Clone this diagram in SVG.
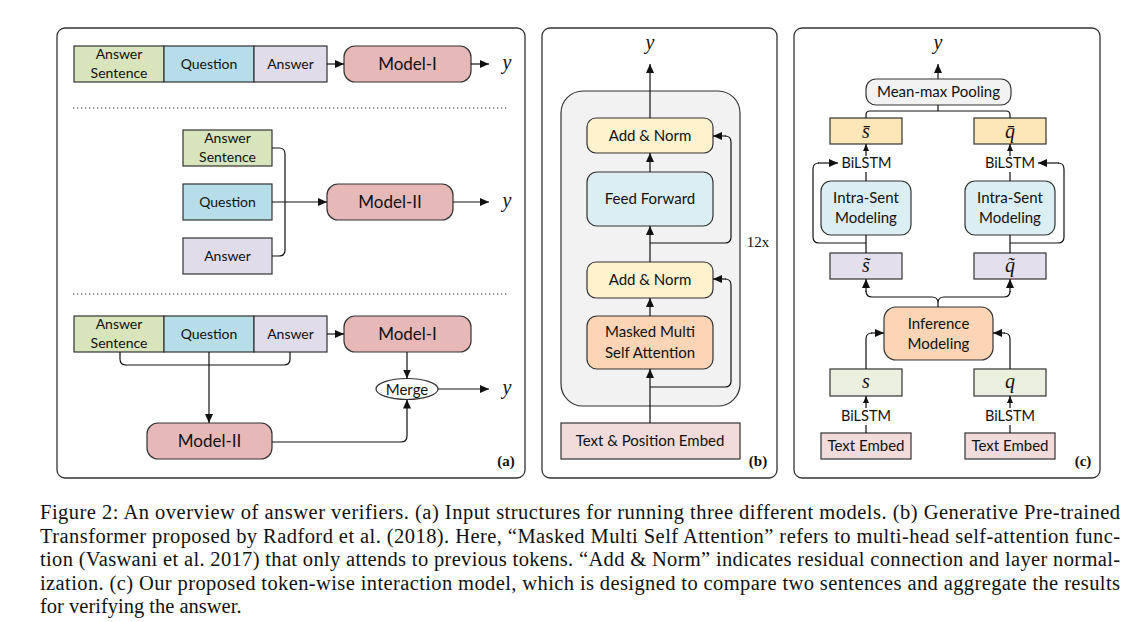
<svg xmlns="http://www.w3.org/2000/svg" width="1137" height="622" viewBox="0 0 1137 622">
<style>
.panel{fill:#fff;stroke:#333;stroke-width:1.3}
.box{stroke:#333;stroke-width:1.2}
.t{font-family:Lato,"Liberation Sans",sans-serif;font-size:14px;fill:#111;text-anchor:middle}
.t15{font-family:Lato,"Liberation Sans",sans-serif;font-size:15px;fill:#111;text-anchor:middle}
.tb{font-family:Lato,"Liberation Sans",sans-serif;font-size:14.5px;fill:#111;text-anchor:middle}
.tm{font-family:Lato,"Liberation Sans",sans-serif;font-size:17px;fill:#111;text-anchor:middle}
.math{font-family:"Liberation Serif",serif;font-style:italic;font-size:20px;fill:#111;text-anchor:middle}
.lbl{font-family:"Liberation Serif",serif;font-weight:bold;font-size:15px;fill:#111;text-anchor:middle}
.serif{font-family:"Liberation Serif",serif;font-size:15px;fill:#111;text-anchor:middle}
.cap{font-family:"Liberation Serif",serif;font-size:20.5px;fill:#111}
.ln{fill:none;stroke:#111;stroke-width:1.2}
.arr{fill:none;stroke:#111;stroke-width:1.2;marker-end:url(#ah)}
.arrs{fill:none;stroke:#111;stroke-width:1.2;marker-end:url(#ahs)}
.dot{stroke:#333;stroke-width:1.2;stroke-dasharray:1.3 2.7;fill:none}
.green{fill:#d8e4bc}.blue{fill:#b7dee8}.lav{fill:#e1dcea}.pink{fill:#e6b9b8}
.yel{fill:#fff2cc}.lblue{fill:#dbeef4}.peach{fill:#fbd5b5}.rose{fill:#f2dcdb}.gray{fill:#f2f2f2}
.orn{fill:#fde6b8}.lav2{fill:#e4dfec}.lgreen{fill:#ebf1de}
</style>
<defs>
<marker id="ah" markerUnits="userSpaceOnUse" markerWidth="9" markerHeight="8" refX="9" refY="4" orient="auto"><path d="M0,0 L9,4 L0,8 z" fill="#111"/></marker>
<marker id="ahs" markerUnits="userSpaceOnUse" markerWidth="7" markerHeight="6" refX="7" refY="3" orient="auto"><path d="M0,0 L7,3 L0,6 z" fill="#111"/></marker>
</defs>

<!-- Panel frames -->
<rect class="panel" x="57" y="28" width="468" height="450" rx="8"/>
<rect class="panel" x="542" y="28" width="235" height="450" rx="8"/>
<rect class="panel" x="794" y="28" width="306" height="450" rx="8"/>

<!-- ===== Panel (a) ===== -->
<g id="a-row1">
<rect class="box green" x="74" y="46" width="90" height="36"/>
<text class="t" x="119" y="59">Answer</text><text class="t" x="119" y="78">Sentence</text>
<rect class="box blue" x="164" y="46" width="90" height="36"/>
<text class="t" x="209" y="69">Question</text>
<rect class="box lav" x="254" y="46" width="73" height="36"/>
<text class="t" x="290.5" y="69">Answer</text>
</g>
<g id="a-model1-top"><rect class="box pink" x="344" y="46" width="127" height="36" rx="11"/><text class="tm" x="407.5" y="70">Model-I</text></g>
<g id="a-y1"><text class="math" x="507" y="69">y</text></g>
<line class="dot" x1="73" y1="108" x2="507" y2="108"/>

<g id="a-row2">
<rect class="box green" x="183" y="130" width="89" height="36"/>
<text class="t" x="227.5" y="143">Answer</text><text class="t" x="227.5" y="162">Sentence</text>
<rect class="box blue" x="183" y="184" width="89" height="36"/>
<text class="t" x="227.5" y="207">Question</text>
<rect class="box lav" x="183" y="238" width="89" height="36"/>
<text class="t" x="227.5" y="261">Answer</text>
</g>
<g id="a-model2-mid"><rect class="box pink" x="327" y="184" width="126" height="36" rx="11"/><text class="tm" x="390" y="208">Model-II</text></g>
<g id="a-y2"><text class="math" x="507" y="207">y</text></g>
<line class="dot" x1="73" y1="294" x2="507" y2="294"/>

<g id="a-row3">
<rect class="box green" x="74" y="316" width="90" height="36"/>
<text class="t" x="119" y="329">Answer</text><text class="t" x="119" y="348">Sentence</text>
<rect class="box blue" x="164" y="316" width="90" height="36"/>
<text class="t" x="209" y="339">Question</text>
<rect class="box lav" x="254" y="316" width="73" height="36"/>
<text class="t" x="290.5" y="339">Answer</text>
</g>
<g id="a-model1-bot"><rect class="box pink" x="344" y="316" width="127" height="36" rx="11"/><text class="tm" x="407.5" y="340">Model-I</text></g>
<g id="a-model2-bot"><rect class="box pink" x="147" y="423" width="125" height="36" rx="11"/><text class="tm" x="209.5" y="447">Model-II</text></g>
<g id="a-merge"><ellipse cx="407" cy="389" rx="31" ry="10.5" fill="#fff" stroke="#333" stroke-width="1.2"/><text class="t15" x="407" y="394.5">Merge</text></g>
<g id="a-y3"><text class="math" x="507" y="394">y</text></g>
<text class="lbl" x="506" y="466">(a)</text>

<!-- ===== Panel (b) ===== -->
<rect class="box gray" x="561" y="91" width="179" height="315" rx="22"/>
<g id="b-y"><text class="math" x="650" y="49">y</text></g>
<g id="b-addnorm1"><rect class="box yel" x="587" y="118" width="126" height="35" rx="9"/><text class="t15" x="650" y="141">Add &amp; Norm</text></g>
<g id="b-ff"><rect class="box lblue" x="587" y="172" width="126" height="54" rx="10"/><text class="t15" x="650" y="204">Feed Forward</text></g>
<g id="b-addnorm2"><rect class="box yel" x="587" y="262" width="126" height="36" rx="9"/><text class="t15" x="650" y="285">Add &amp; Norm</text></g>
<g id="b-mmsa"><rect class="box peach" x="587" y="316" width="126" height="53" rx="10"/><text class="t15" x="650" y="337">Masked Multi</text><text class="t15" x="650" y="358">Self Attention</text></g>
<g id="b-embed"><rect class="box rose" x="561" y="423" width="179" height="36"/><text class="t15" x="650" y="446">Text &amp; Position Embed</text></g>
<text class="serif" x="758" y="247">12x</text>
<text class="lbl" x="758" y="466">(b)</text>

<!-- ===== Panel (c) ===== -->
<g id="c-y"><text class="math" x="938" y="49">y</text></g>
<g id="c-pool"><rect class="box gray" x="866" y="79" width="145" height="26" rx="10"/><text class="t15" x="938.5" y="97">Mean-max Pooling</text></g>
<g id="c-sbar"><rect class="box orn" x="830" y="118" width="72" height="26"/><text class="math" x="866" y="138">s&#772;</text></g>
<g id="c-qbar"><rect class="box orn" x="974" y="118" width="72" height="26"/><text class="math" x="1010" y="138">q&#772;</text></g>
<text class="tb" x="866.5" y="168">BiLSTM</text>
<text class="tb" x="1010" y="168">BiLSTM</text>
<g id="c-intra-s"><rect class="box lblue" x="821" y="181" width="90" height="54" rx="10"/><text class="t15" x="866" y="203">Intra-Sent</text><text class="t15" x="866" y="223">Modeling</text></g>
<g id="c-intra-q"><rect class="box lblue" x="965" y="181" width="90" height="54" rx="10"/><text class="t15" x="1010" y="203">Intra-Sent</text><text class="t15" x="1010" y="223">Modeling</text></g>
<g id="c-stilde"><rect class="box lav2" x="830" y="253" width="72" height="26"/><text class="math" x="866" y="272">s&#771;</text></g>
<g id="c-qtilde"><rect class="box lav2" x="974" y="253" width="72" height="26"/><text class="math" x="1010" y="272">q&#771;</text></g>
<g id="c-infer"><rect class="box peach" x="884" y="307" width="109" height="53" rx="12"/><text class="t15" x="938.5" y="329">Inference</text><text class="t15" x="938.5" y="349">Modeling</text></g>
<g id="c-s"><rect class="box lgreen" x="830" y="369" width="72" height="27"/><text class="math" x="866" y="388">s</text></g>
<g id="c-q"><rect class="box lgreen" x="974" y="369" width="72" height="27"/><text class="math" x="1010" y="388">q</text></g>
<text class="tb" x="866" y="421">BiLSTM</text>
<text class="tb" x="1010" y="421">BiLSTM</text>
<g id="c-embed-s"><rect class="box rose" x="821" y="433" width="90" height="26"/><text class="t15" x="866" y="451">Text Embed</text></g>
<g id="c-embed-q"><rect class="box rose" x="965" y="433" width="90" height="26"/><text class="t15" x="1010" y="451">Text Embed</text></g>
<text class="lbl" x="1083" y="466">(c)</text>

<!-- ===== Connectors ===== -->
<g id="connectors">
<!-- a -->
<path class="arr" d="M327,64 H344"/>
<path class="arr" d="M471,64 H489"/>
<path class="ln" d="M272,148 H279 Q285,148 285,154 V250 Q285,256 279,256 H272"/>
<path class="arr" d="M272,202 H327"/>
<path class="arr" d="M453,202 H489"/>
<path class="arr" d="M327,334 H344"/>
<path class="ln" d="M120,352 V359 Q120,365 126,365 H284 Q290,365 290,359 V352"/>
<path class="arr" d="M209,352 V423"/>
<path class="arr" d="M407,352 V378.5"/>
<path class="arr" d="M272,442 H401 Q407,442 407,436 V399.5"/>
<path class="arr" d="M438,389 H489"/>
<!-- b -->
<path class="arr" d="M650,118 V64"/>
<path class="arr" d="M650,172 V153"/>
<path class="arr" d="M650,262 V226"/>
<path class="ln" d="M650,243 H725 Q731,243 731,237 V142 Q731,136 725,136"/>
<path class="arr" d="M726,136 H713"/>
<path class="arr" d="M650,316 V298"/>
<path class="arr" d="M650,423 V369"/>
<path class="ln" d="M650,387 H725 Q731,387 731,381 V285 Q731,279 725,279"/>
<path class="arr" d="M726,279 H713"/>
<!-- c -->
<path class="arr" d="M938,79 V64"/>
<path class="ln" d="M866,118 V115 Q866,111 870,111 H1006 Q1010,111 1010,115 V118 M938,111 V105"/>
<path class="arrs" d="M866,156 V144"/>
<path class="arrs" d="M1010,156 V144"/>
<path class="ln" d="M866,181 V172 M1010,181 V172"/>
<path class="ln" d="M866,253 V235 M1010,253 V235"/>
<path class="ln" d="M866,243 H819 Q813,243 813,237 V169 Q813,163 819,163"/>
<path class="arr" d="M818,163 H838"/>
<path class="ln" d="M1010,243 H1058 Q1064,243 1064,237 V169 Q1064,163 1058,163"/>
<path class="arr" d="M1059,163 H1038"/>
<path class="ln" d="M938,307 V303 Q938,297 932,297 H872 Q866,297 866,291 M938,303 Q938,297 944,297 H1004 Q1010,297 1010,291"/>
<path class="arr" d="M866,292 V279"/>
<path class="arr" d="M1010,292 V279"/>
<path class="ln" d="M866,369 V339 Q866,333 872,333"/>
<path class="arr" d="M871,333 H884"/>
<path class="ln" d="M1010,369 V339 Q1010,333 1004,333"/>
<path class="arr" d="M1005,333 H993"/>
<path class="arrs" d="M866,408 V396"/>
<path class="arrs" d="M1010,408 V396"/>
<path class="ln" d="M866,433 V425 M1010,433 V425"/>
</g>

<!-- Caption -->
<g id="caption">
<text class="cap" x="40" y="519" textLength="1080" lengthAdjust="spacing">Figure 2: An overview of answer verifiers. (a) Input structures for running three different models. (b) Generative Pre-trained</text>
<text class="cap" x="40" y="542.5" textLength="1080" lengthAdjust="spacing">Transformer proposed by Radford et al. (2018). Here, “Masked Multi Self Attention” refers to multi-head self-attention func-</text>
<text class="cap" x="40" y="566" textLength="1080" lengthAdjust="spacing">tion (Vaswani et al. 2017) that only attends to previous tokens. “Add &amp; Norm” indicates residual connection and layer normal-</text>
<text class="cap" x="40" y="589.5" textLength="1080" lengthAdjust="spacing">ization. (c) Our proposed token-wise interaction model, which is designed to compare two sentences and aggregate the results</text>
<text class="cap" x="40" y="613">for verifying the answer.</text>
</g>
</svg>
